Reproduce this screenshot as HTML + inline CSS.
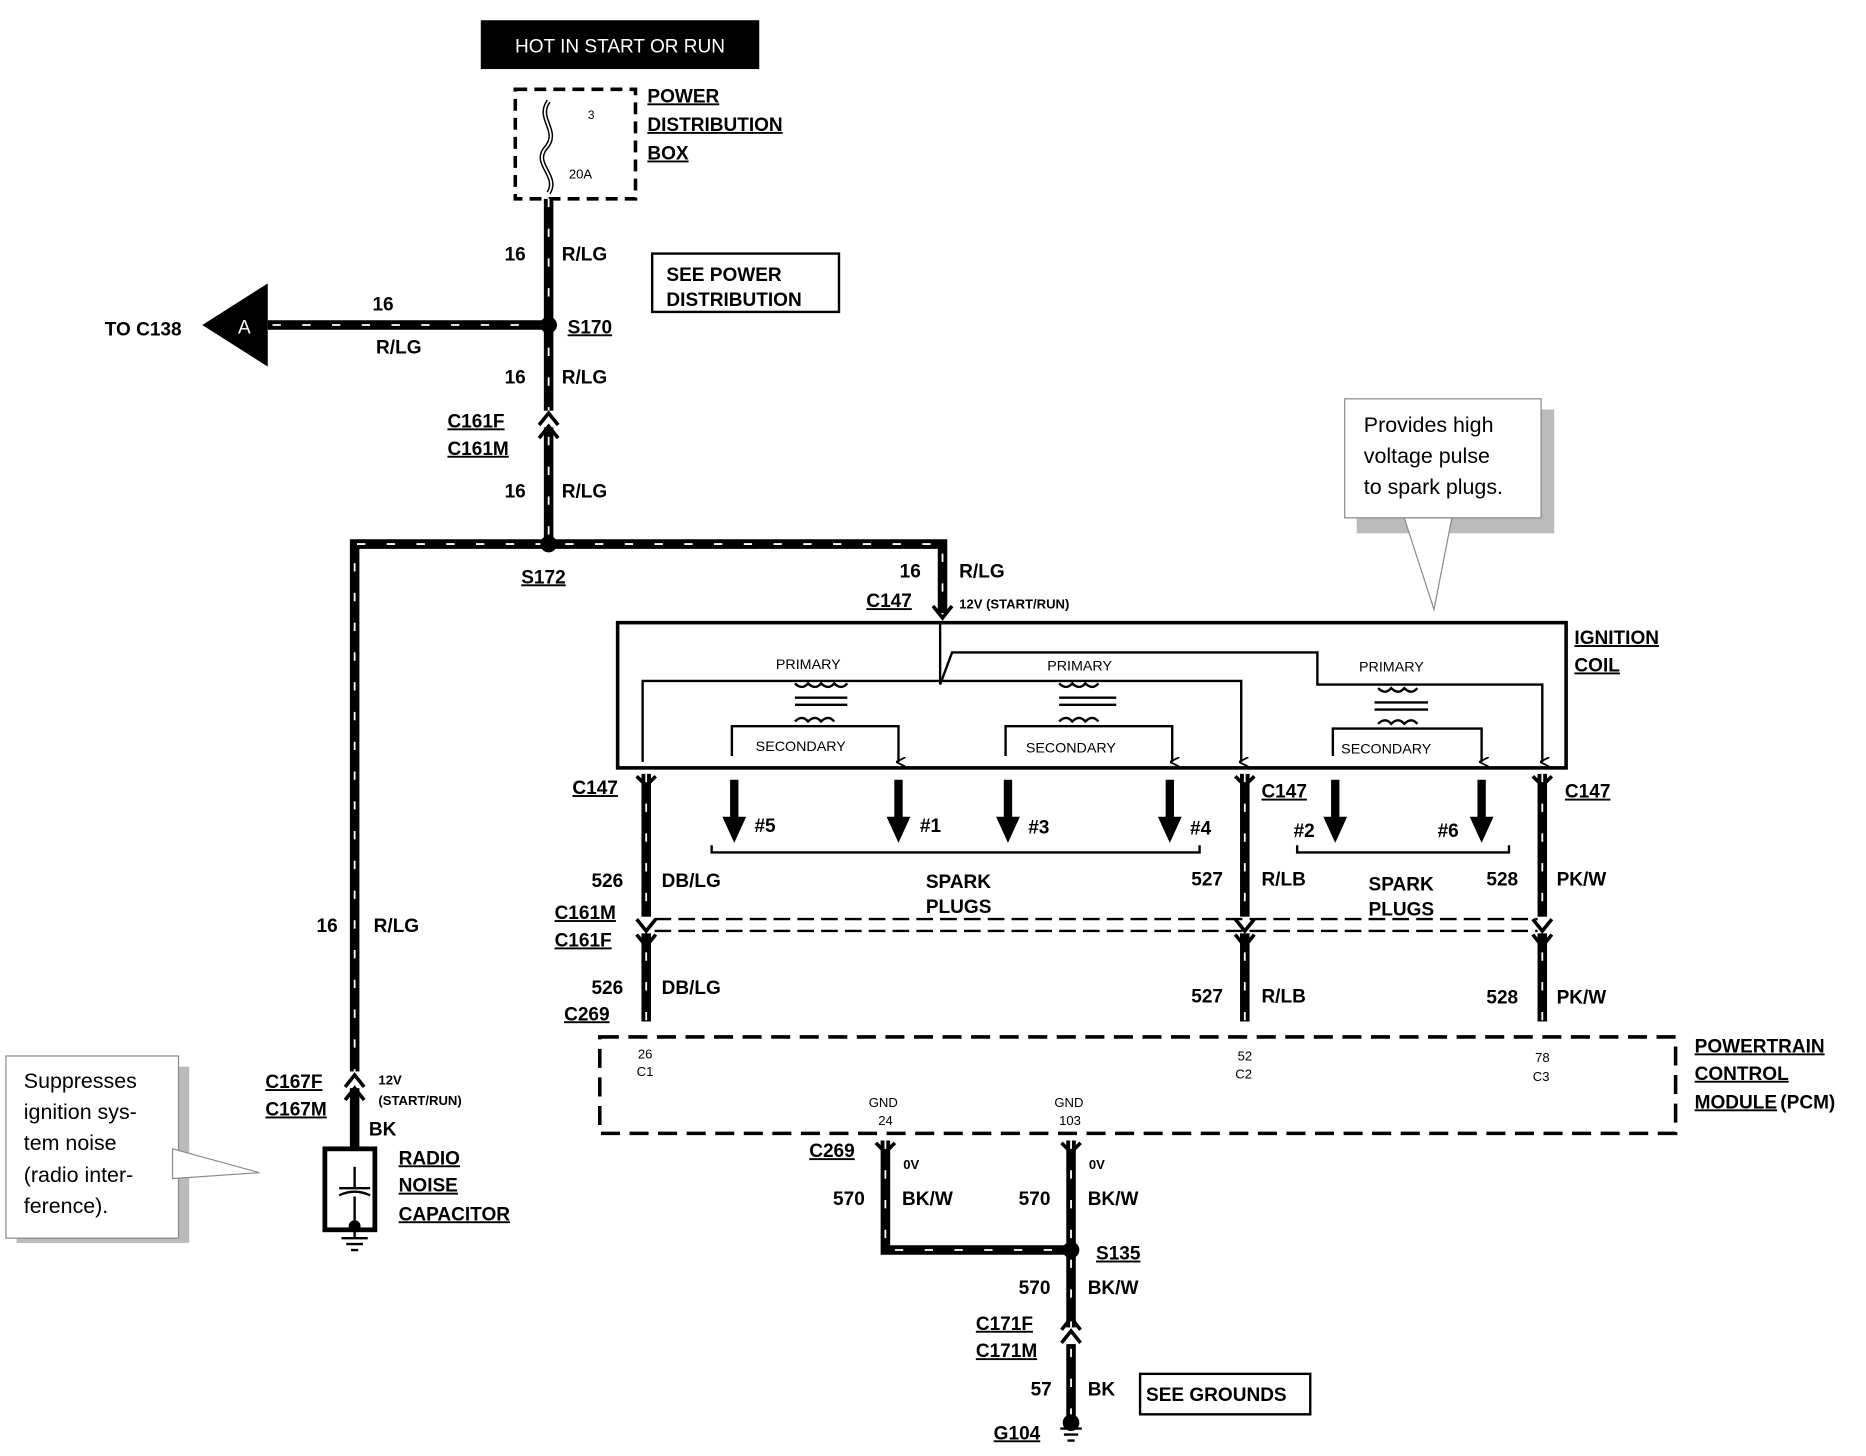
<!DOCTYPE html>
<html><head><meta charset="utf-8"><style>
html,body{margin:0;padding:0;background:#fff;}
svg{display:block;}
text{font-family:"Liberation Sans",Arial,sans-serif;font-weight:bold;fill:#000;}
.n{font-weight:normal;}
</style></head><body>
<svg width="1866" height="1456" viewBox="0 0 1568 1223" preserveAspectRatio="none" xmlns="http://www.w3.org/2000/svg">
<defs>
<marker id="ah" markerWidth="8" markerHeight="8" refX="4" refY="6" orient="auto" markerUnits="userSpaceOnUse"><path d="M0,0 L4,8 L8,0" fill="none" stroke="#000" stroke-width="1.5"/></marker>
</defs>
<!-- top box -->
<rect x="404" y="17" width="234" height="41" fill="#000"/>
<text x="521" y="44" text-anchor="middle" class="n" style="fill:#fff;font-size:16px">HOT IN START OR RUN</text>
<rect x="433" y="75" width="101" height="92" fill="none" stroke="#000" stroke-width="3" stroke-dasharray="10,6"/>
<path d="M461,85 C450,100 472,110 458,125 C448,138 470,148 461,162" fill="none" stroke="#000" stroke-width="4"/>
<path d="M461,85 C450,100 472,110 458,125 C448,138 470,148 461,162" fill="none" stroke="#fff" stroke-width="1.5"/>
<text x="494" y="100" class="n" style="font-size:10px">3</text>
<text x="478" y="150" class="n" style="font-size:11px">20A</text>
<g style="font-size:16px" text-decoration="underline">
<text x="544" y="86">POWER</text><text x="544" y="110">DISTRIBUTION</text><text x="544" y="134">BOX</text>
</g>
<!-- wires -->
<g fill="none" stroke-linejoin="miter">
<path d="M461,167 V457 M461,273 H225 M298,905 V457 H792 V515" stroke="#000" stroke-width="8"/>
<path d="M461,167 V457 M461,273 H225 M298,905 V457 H792 V515" stroke="#fff" stroke-width="1.5" stroke-dasharray="7,18"/>
<path d="M543,650 V858 M1046,650 V858 M1296,650 V858 M744,958 V1050 H900 M900,958 V1195 M298,905 V965" stroke="#000" stroke-width="8"/>
<path d="M543,650 V858 M1046,650 V858 M1296,650 V858 M744,958 V1050 H900 M900,958 V1195" stroke="#fff" stroke-width="1.5" stroke-dasharray="7,18"/>
</g>
<!-- connector breaks -->
<g fill="#fff">
<rect x="450" y="345" width="22" height="14"/><rect x="287" y="900" width="22" height="14"/>
<rect x="532" y="770" width="22" height="14"/><rect x="1035" y="770" width="22" height="14"/><rect x="1285" y="770" width="22" height="14"/>
<rect x="889" y="1115" width="22" height="14"/>
</g>
<g fill="none" stroke="#000" stroke-width="3">
<path d="M453,357 L461,347 L469,357 M453,368 L461,358 L469,368"/>
<path d="M290,913 L298,903 L306,913 M290,924 L298,914 L306,924"/>
<path d="M535,772 L543,782 L551,772 M535,785 L543,795 L551,785"/>
<path d="M1038,772 L1046,782 L1054,772 M1038,785 L1046,795 L1054,785"/>
<path d="M1288,772 L1296,782 L1304,772 M1288,785 L1296,795 L1304,785"/>
<path d="M892,1117 L900,1107 L908,1117 M892,1128 L900,1118 L908,1128"/>
<path d="M784,509 L792,519 L800,509 M535,652 L543,660 L551,652 M1038,652 L1046,660 L1054,652 M1288,652 L1296,660 L1304,652 M736,960 L744,968 L752,960 M892,960 L900,968 L908,960"/>
</g>
<circle cx="461" cy="273" r="7"/><circle cx="461" cy="457" r="7"/><circle cx="900" cy="1050" r="7"/>
<polygon points="170,273 225,238 225,308" fill="#000"/>
<text x="200" y="280" style="fill:#fff;font-size:16px" class="n">A</text>
<text x="88" y="282" style="font-size:16px">TO C138</text>
<g style="font-size:16px">
<text x="424" y="219">16</text><text x="472" y="219">R/LG</text>
<text x="313" y="261">16</text><text x="316" y="297">R/LG</text>
<text x="424" y="322">16</text><text x="472" y="322">R/LG</text>
<text x="424" y="418">16</text><text x="472" y="418">R/LG</text>
<text x="756" y="485">16</text><text x="806" y="485">R/LG</text>
<text x="266" y="783">16</text><text x="314" y="783">R/LG</text>
</g>
<g style="font-size:16px" text-decoration="underline">
<text x="477" y="280">S170</text><text x="376" y="359">C161F</text><text x="376" y="382">C161M</text>
<text x="438" y="490">S172</text><text x="728" y="510">C147</text>
<text x="223" y="914">C167F</text><text x="223" y="937">C167M</text>
<text x="335" y="978">RADIO</text><text x="335" y="1001">NOISE</text><text x="335" y="1025">CAPACITOR</text>
<text x="1323" y="541">IGNITION</text><text x="1323" y="564">COIL</text>
<text x="481" y="667">C147</text><text x="1060" y="670">C147</text><text x="1315" y="670">C147</text>
<text x="466" y="772">C161M</text><text x="466" y="795">C161F</text><text x="474" y="857">C269</text>
<text x="1424" y="884">POWERTRAIN</text><text x="1424" y="907">CONTROL</text><text x="1424" y="931">MODULE</text>
<text x="680" y="972">C269</text><text x="921" y="1058">S135</text>
<text x="820" y="1117">C171F</text><text x="820" y="1140">C171M</text><text x="835" y="1209">G104</text>
</g>
<text x="1496" y="931" style="font-size:16px">(PCM)</text>
<rect x="548" y="213" width="157" height="49" fill="none" stroke="#000" stroke-width="2"/>
<text x="560" y="236" style="font-size:16px">SEE POWER</text><text x="560" y="257" style="font-size:16px">DISTRIBUTION</text>
<text x="806" y="511" style="font-size:11px">12V (START/RUN)</text>
<!-- ignition coil -->
<rect x="519" y="523" width="797" height="122" fill="none" stroke="#000" stroke-width="3"/>
<g fill="none" stroke="#000" stroke-width="2">
<path d="M790,523 V575 M540,640 V572 H1043 V640" marker-end="url(#ah)"/>
<path d="M790,575 L800,548 H1107 V575 H1296 V640" marker-end="url(#ah)"/>
<path d="M615,635 V610 H755 V640" marker-end="url(#ah)"/>
<path d="M845,635 V610 H985 V640" marker-end="url(#ah)"/>
<path d="M1120,635 V612 H1245 V640" marker-end="url(#ah)"/>
<path d="M668,574 q6,6 11,0 q6,6 11,0 q6,6 11,0 q6,6 11,0"/>
<path d="M890,574 q6,6 11,0 q6,6 11,0 q6,6 11,0"/>
<path d="M1158,578 q6,6 11,0 q6,6 11,0 q6,6 11,0"/>
<path d="M668,586 H712 M668,592 H712 M890,586 H938 M890,592 H938 M1155,590 H1200 M1155,596 H1200"/>
<path d="M668,606 q6,-6 11,0 q6,-6 11,0 q6,-6 11,0 M890,606 q6,-6 11,0 q6,-6 11,0 q6,-6 11,0 M1158,608 q6,-6 11,0 q6,-6 11,0 q6,-6 11,0"/>
<path d="M598,710 V716 H1008 V710 M1090,710 V716 H1268 V710"/>
</g>
<g class="n" style="font-size:12px">
<text x="652" y="562" class="n">PRIMARY</text><text x="880" y="563" class="n">PRIMARY</text><text x="1142" y="564" class="n">PRIMARY</text>
<text x="635" y="631" class="n">SECONDARY</text><text x="862" y="632" class="n">SECONDARY</text><text x="1127" y="633" class="n">SECONDARY</text>
</g>
<!-- spark plug arrows -->
<g stroke="#000" stroke-width="7" fill="#000">
<path d="M617,655 V690 M755,655 V690 M847,655 V690 M983,655 V690 M1122,655 V690 M1245,655 V690"/>
</g>
<g fill="#000">
<polygon points="607,686 627,686 617,708"/><polygon points="745,686 765,686 755,708"/><polygon points="837,686 857,686 847,708"/>
<polygon points="973,686 993,686 983,708"/><polygon points="1112,686 1132,686 1122,708"/><polygon points="1235,686 1255,686 1245,708"/>
</g>
<g style="font-size:16px">
<text x="634" y="699">#5</text><text x="773" y="699">#1</text><text x="864" y="700">#3</text><text x="1000" y="701">#4</text>
<text x="1087" y="703">#2</text><text x="1208" y="703">#6</text>
<text x="778" y="746">SPARK</text><text x="778" y="767">PLUGS</text><text x="1150" y="748">SPARK</text><text x="1150" y="769">PLUGS</text>
<text x="497" y="745">526</text><text x="556" y="745">DB/LG</text><text x="1001" y="744">527</text><text x="1060" y="744">R/LB</text>
<text x="1249" y="744">528</text><text x="1308" y="744">PK/W</text>
<text x="497" y="835">526</text><text x="556" y="835">DB/LG</text><text x="1001" y="842">527</text><text x="1060" y="842">R/LB</text>
<text x="1249" y="843">528</text><text x="1308" y="843">PK/W</text>
</g>
<g fill="none" stroke="#000" stroke-width="2" stroke-dasharray="14,6">
<path d="M550,772 H1292 M550,782 H1292"/>
</g>
<rect x="504" y="871" width="904" height="81" fill="none" stroke="#000" stroke-width="3" stroke-dasharray="16,8"/>
<g class="n" style="font-size:11px">
<text x="536" y="889" class="n">26</text><text x="535" y="904" class="n">C1</text>
<text x="1040" y="891" class="n">52</text><text x="1038" y="906" class="n">C2</text>
<text x="1290" y="892" class="n">78</text><text x="1288" y="908" class="n">C3</text>
<text x="730" y="930" class="n">GND</text><text x="738" y="945" class="n">24</text>
<text x="886" y="930" class="n">GND</text><text x="890" y="945" class="n">103</text>
</g>
<g style="font-size:16px">
<text x="759" y="982" style="font-size:11px">0V</text><text x="915" y="982" style="font-size:11px">0V</text>
<text x="700" y="1012">570</text><text x="758" y="1012">BK/W</text><text x="856" y="1012">570</text><text x="914" y="1012">BK/W</text>
<text x="856" y="1087">570</text><text x="914" y="1087">BK/W</text>
<text x="866" y="1172">57</text><text x="914" y="1172">BK</text>
<text x="310" y="954">BK</text>
</g>
<text x="318" y="911" style="font-size:11px">12V</text><text x="318" y="928" style="font-size:11px">(START/RUN)</text>
<rect x="958" y="1154" width="143" height="34" fill="none" stroke="#000" stroke-width="2"/>
<text x="963" y="1177" style="font-size:16px">SEE GROUNDS</text>
<!-- grounds -->
<g stroke="#000" stroke-width="2" fill="none">
<path d="M891,1200 H909 M894,1205 H906 M897,1210 H903"/>
<path d="M287,1040 H309 M291,1045 H305 M295,1050 H301 M298,1030 V1040"/>
<rect x="273" y="965" width="42" height="68" stroke-width="4"/>
<path d="M285,998 H311 M285,1004 q13,-6 26,0 M298,980 V998 M298,1005 V1025"/>
</g>
<circle cx="900" cy="1195" r="7"/><circle cx="298" cy="1030" r="5"/>
<!-- callouts -->
<rect x="1140" y="344" width="166" height="104" fill="#bbb"/>
<rect x="1130" y="335" width="165" height="100" fill="#fff" stroke="#888" stroke-width="1"/>
<polygon points="1180,435 1205,512 1220,435" fill="#fff" stroke="#888"/>
<g class="n" style="font-size:18px">
<text x="1146" y="363" class="n">Provides high</text><text x="1146" y="389" class="n">voltage pulse</text><text x="1146" y="415" class="n">to spark plugs.</text>
</g>
<rect x="14" y="896" width="145" height="148" fill="#bbb"/>
<rect x="5" y="887" width="145" height="153" fill="#fff" stroke="#888" stroke-width="1"/>
<polygon points="145,965 218,985 145,990" fill="#fff" stroke="#888"/>
<g class="n" style="font-size:18px">
<text x="20" y="914" class="n">Suppresses</text><text x="20" y="940" class="n">ignition sys-</text><text x="20" y="966" class="n">tem noise</text>
<text x="20" y="993" class="n">(radio inter-</text><text x="20" y="1019" class="n">ference).</text>
</g>
</svg>
</body></html>
